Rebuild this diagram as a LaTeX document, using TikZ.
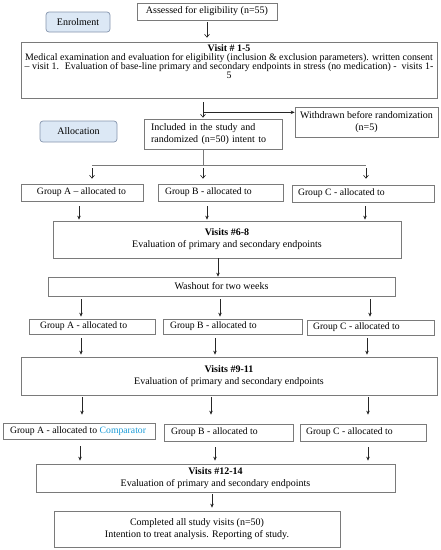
\documentclass[tikz,border=0pt]{standalone}
\usepackage{fontspec}
\setmainfont{Liberation Serif}
\usetikzlibrary{arrows.meta,calc}
\definecolor{bord}{HTML}{7A7A7A}
\definecolor{enrfill}{HTML}{DCE8F5}
\definecolor{enrdraw}{HTML}{8595AE}
\definecolor{compblue}{HTML}{1A9AD6}
\newcommand{\lb}[2]{\makebox[#1][l]{#2}}
\newcommand{\varr}[5]{\draw[farr] ($(#1.south)+(#3,#4)$) -- ($(#1.south |- #2.north)+(#3,-#5)$);}
\begin{document}
\begin{tikzpicture}[x=1pt,y=-1pt,
 font=\fontsize{10}{12}\selectfont,
 box/.style={draw=bord, line width=0.7pt, inner sep=0pt, align=center},
 lab/.style={draw=enrdraw, fill=enrfill, rounded corners=3pt, line width=0.7pt, inner sep=0pt},
 grp/.style={draw=bord, line width=0.7pt, inner ysep=0pt, inner xsep=#1, font=\fontsize{9.7}{12}\selectfont},
 oarr/.style={draw=black!85, line width=0.6pt, -{Straight Barb[length=3pt,width=5pt]}},
 farr/.style={draw=black!85, line width=0.6pt, -{Stealth[length=4pt,width=3.5pt]}},
 ln/.style={draw=bord, line width=0.7pt}]
\useasboundingbox (0,0) rectangle (441,550);

% top part
\node[box, minimum width=140pt, minimum height=17pt] (assess) at (207,11.5) {Assessed for eligibility (n=55)};
\node[lab, minimum width=64pt, minimum height=20pt] (enrol) at (78,22) {Enrolment};
\node[box, minimum width=416pt, minimum height=56pt] (v15) at (229,70)
 {\parbox[c][56pt][t]{416pt}{\centering\fontsize{9.9}{9}\selectfont\lineskiplimit=-20pt\vspace*{3pt}%
 \textbf{Visit \# 1-5}\\
 Medical examination and evaluation for eligibility (inclusion \& exclusion parameters). written consent\\
 – visit 1.~ Evaluation of base-line primary and secondary endpoints in stress (no medication) -~ visits 1-\\
 5}};
\node[box, minimum width=143pt, minimum height=30pt] (wd) at (366.5,122) {Withdrawn before randomization\\(n=5)};
\node[lab, minimum width=77pt, minimum height=21pt] (alloc) at (78.5,131.5) {Allocation};
\node[box, minimum width=138pt, minimum height=30pt, inner xsep=7pt, text width=124pt, align=left] (inc) at (213,134)
 {Included in the study and\\randomized (n=50) intent to};

% row 1
\node[grp=16pt, minimum height=17pt] (gA1) at (82,192.5) {\lb{90pt}{Group A – allocated to}};
\node[grp=7pt, minimum height=17pt] (gB1) at (220.5,192.5) {\lb{111pt}{Group B - allocated to}};
\node[grp=6pt, minimum height=17pt] (gC1) at (363,193.5) {\lb{130pt}{Group C - allocated to}};

\node[box, minimum width=348pt, minimum height=37pt] (v68) at (227,239.5)
 {\textbf{Visits \#6-8}\\Evaluation of primary and secondary endpoints};
\node[box, minimum width=347pt, minimum height=19pt] (wash) at (221.5,286.5) {Washout for two weeks};

% row 2
\node[grp=11pt, minimum height=15pt] (gA2) at (92,326.5) {\lb{104pt}{Group A - allocated to}};
\node[grp=7pt, minimum height=15pt] (gB2) at (232.5,326.5) {\lb{125pt}{Group B - allocated to}};
\node[grp=6pt, minimum height=15pt] (gC2) at (370.5,327.5) {\lb{115pt}{Group C - allocated to}};

\node[box, minimum width=416pt, minimum height=38pt] (v911) at (229,376)
 {\textbf{Visits \#9-11}\\Evaluation of primary and secondary endpoints};

% row 3
\node[grp=7pt, minimum height=16pt] (gA3) at (79,431) {\lb{138pt}{Group A - allocated to \textcolor{compblue}{Comparator}}};
\node[grp=7pt, minimum height=17pt] (gB3) at (228.5,432.5) {\lb{115pt}{Group B - allocated to}};
\node[grp=6pt, minimum height=17pt] (gC3) at (363,432.5) {\lb{114pt}{Group C - allocated to}};

\node[box, minimum width=359pt, minimum height=28pt] (v1214) at (215.5,478)
 {\textbf{Visits \#12-14}\\Evaluation of primary and secondary endpoints};
\node[box, minimum width=286pt, minimum height=36pt] (compl) at (197,529)
 {Completed all study visits (n=50)\\Intention to treat analysis. Reporting of study.};

% connectors
\draw[oarr] ($(assess.south)+(0,2)$) -- ($(assess.south |- v15.north)+(0,-4)$);
\coordinate (j1) at ($(v15.south)+(-26,14)$);
\draw[oarr] ($(v15.south)+(-26,4)$) -- ($(inc.north -| j1)+(0,-1)$);
\draw[farr] (j1) -- (j1 -| wd.west);

\coordinate (j2) at ($(inc.south)+(-10,16)$);
\draw[ln] ($(inc.south)+(-10,0)$) -- (j2);
\draw[ln] ($(j2 -| gA1.north)+(10,0)$) -- ($(j2 -| gC1.north)+(3,0)$);
\draw[oarr] ($(j2 -| gA1.north)+(10,3)$) -- ($(gA1.north)+(10,-5)$);
\draw[oarr] ($(j2)+(0,3)$) -- ($(j2 |- gB1.north)+(0,-5)$);
\draw[oarr] ($(j2 -| gC1.north)+(3,3)$) -- ($(gC1.north)+(3,-6)$);

\varr{gA1}{v68}{-3}{5}{1}
\varr{gB1}{v68}{-13.5}{5}{1}
\varr{gC1}{v68}{2}{4}{1}
\varr{v68}{wash}{-9}{0}{0}
\varr{wash}{gA2}{-140.5}{3}{2}
\varr{wash}{gA2}{-1.5}{3}{2}
\varr{wash}{gA2}{148.5}{3}{2}
\varr{gA2}{v911}{-11}{4}{2}
\varr{gB2}{v911}{-17.5}{4}{2}
\varr{gC2}{v911}{-3.5}{3}{2}
\varr{v911}{gA3}{-147}{2}{8}
\varr{v911}{gA3}{-18}{2}{8}
\varr{v911}{gA3}{139}{2}{8}
\varr{gA3}{v1214}{1}{7}{3}
\varr{gB3}{v1214}{-13.5}{6}{3}
\varr{gC3}{v1214}{5}{6}{3}
\varr{v1214}{compl}{-3.5}{2}{3}
\end{tikzpicture}
\end{document}
